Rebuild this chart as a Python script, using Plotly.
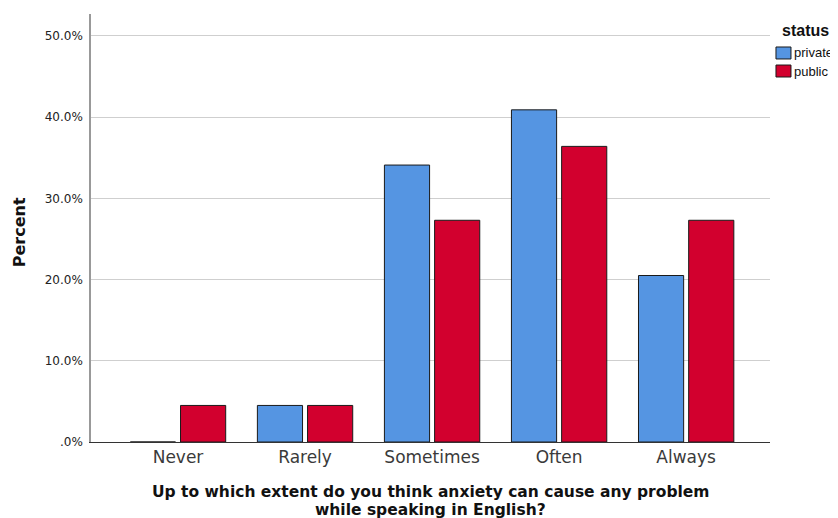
import plotly.graph_objects as go

categories = ["Never", "Rarely", "Sometimes", "Often", "Always"]
series_names = ["private", "public"]
private_pct = [0.0, 4.5, 34.1, 40.9, 20.5]
public_pct = [4.5, 4.5, 27.3, 36.4, 27.3]
y_tick_vals = [0, 10, 20, 30, 40, 50]
y_tick_text = [".0%", "10.0%", "20.0%", "30.0%", "40.0%", "50.0%"]
legend_title = "status"
x_title_lines = ["Up to which extent do you think anxiety can cause any problem",
                 "while speaking in English?"]
y_title = "Percent"

FONT = "DejaVu Sans, Liberation Sans, Arial, sans-serif"
LEG_FONT = "Liberation Sans, Arial, sans-serif"
COLORS = ["#5595E2", "#D2002E"]
EDGE = "#1a1a1a"

fig = go.Figure()
for name, vals, col in zip(series_names, [private_pct, public_pct], COLORS):
    fig.add_trace(go.Bar(name=name, x=categories, y=vals,
                         marker=dict(color=col, line=dict(color=EDGE, width=1))))

# custom legend (compact, like SPSS)
shapes = []
annotations = []
legend_rows = [(0.9229, 0.8949, 0.9089), (0.8808, 0.8528, 0.8668)]
for name, col, (y0, y1, yt) in zip(series_names, COLORS, legend_rows):
    shapes.append(dict(type="rect", xref="paper", yref="paper",
                       x0=1.0088, x1=1.0309, y0=y1, y1=y0,
                       fillcolor=col, line=dict(color=EDGE, width=1)))
    annotations.append(dict(text=name, xref="paper", yref="paper",
                            x=1.0325, y=yt, xanchor="left", yanchor="middle",
                            showarrow=False,
                            font=dict(family=LEG_FONT, size=13, color="#111")))
annotations.append(dict(text="<b>" + legend_title + "</b>", xref="paper", yref="paper",
                        x=1.0147, y=0.9626, xanchor="left", yanchor="middle",
                        showarrow=False,
                        font=dict(family=LEG_FONT, size=16, color="#111")))
annotations.append(dict(text="<b>" + y_title + "</b>", xref="paper", yref="paper",
                        x=-0.106, y=0.49, xanchor="center", yanchor="middle",
                        textangle=-90, showarrow=False, font=dict(size=16, color="#111")))
for line, shift in zip(x_title_lines, [-49.5, -67.5]):
    annotations.append(dict(text="<b>" + line + "</b>", xref="paper", yref="paper",
                            x=0.5, y=0, xanchor="center", yanchor="middle",
                            yshift=shift, showarrow=False,
                            font=dict(size=15.5, color="#111")))

fig.update_layout(
    width=830, height=510,
    margin=dict(l=83, r=68, t=6, b=76, autoexpand=False),
    paper_bgcolor="white", plot_bgcolor="white",
    font=dict(family=FONT, color="#222"),
    barmode="group", bargap=0.21, bargroupgap=0.1,
    showlegend=False,
    xaxis=dict(
        range=[-0.685, 4.66],
        showgrid=False, showline=True, linecolor="#333", linewidth=1,
        ticks="", tickfont=dict(size=17, color="#3a3a3a"),
    ),
    yaxis=dict(
        range=[0, 52.7],
        tickvals=y_tick_vals, ticktext=y_tick_text,
        showgrid=True, gridcolor="#cfcfcf", gridwidth=1,
        showline=True, linecolor="#999", linewidth=1.5,
        zeroline=False, ticks="", ticklabelstandoff=4,
        tickfont=dict(size=12, color="#222"),
    ),
    shapes=shapes,
    annotations=annotations,
)

fig.write_html("out.html")
